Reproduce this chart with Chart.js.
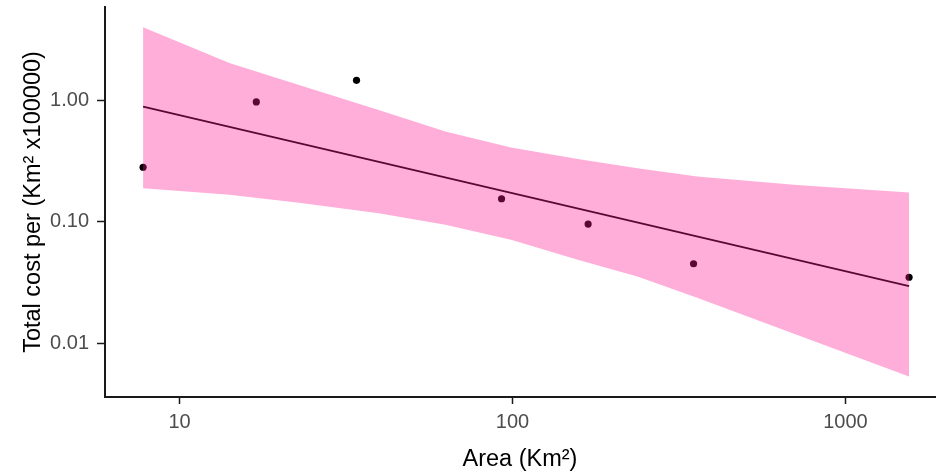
<!DOCTYPE html>
<html lang="en">
<head>
  <meta charset="UTF-8">
  <title>Total cost per area</title>
  <script src="https://cdn.jsdelivr.net/npm/chart.js"></script>
  <style>
    html, body { margin: 0; padding: 0; background: #fff; }
    #chart-container { width: 939px; height: 474px; }
  </style>
</head>
<body>

<div id="chart-container">
  <canvas id="costChart"></canvas>
</div>

<script>
// observed sites
const areaKm2 = [7.77, 17.0, 34.0, 92.7, 168.7, 349.8, 1553];
const totalCost = [0.282, 0.976, 1.47, 0.155, 0.0958, 0.0451, 0.0349];

// fitted line (log-log)
const fitArea = [7.77, 1553];
const fitCost = [0.892, 0.0295];

// confidence band
const bandArea = [7.77, 14.11, 22.84, 39.62, 62.84, 98.97, 156.97, 237.2, 358.5, 713.8, 1553];
const bandUpper = [4.03, 2.046, 1.347, 0.838, 0.555, 0.411, 0.3307, 0.2772, 0.2363, 0.2018, 0.1744];
const bandLower = [0.1896, 0.167, 0.1434, 0.1179, 0.0945, 0.0711, 0.0486, 0.0354, 0.0236, 0.0117, 0.0053];

// axis ticks
const xTicks = [10, 100, 1000];
const xTickLabels = ["10", "100", "1000"];
const yTicks = [0.01, 0.1, 1];
const yTickLabels = ["0.01", "0.10", "1.00"];

function pairs(xs, ys) {
  return xs.map((x, i) => ({ x: x, y: ys[i] }));
}

const tickFont = { family: "Arial, 'Liberation Sans', sans-serif", size: 20 };
const titleFont = { family: "Arial, 'Liberation Sans', sans-serif", size: 23.5 };

const ctx = document.getElementById("costChart").getContext("2d");
new Chart(ctx, {
  type: "scatter",
  data: {
    datasets: [
      {
        label: "upper",
        data: pairs(bandArea, bandUpper),
        showLine: true,
        pointRadius: 0,
        borderWidth: 0,
        borderColor: "rgba(0,0,0,0)",
        backgroundColor: "rgba(255,20,147,0.35)",
        tension: 0,
        fill: "+1",
        order: 0
      },
      {
        label: "lower",
        data: pairs(bandArea, bandLower),
        showLine: true,
        pointRadius: 0,
        borderWidth: 0,
        borderColor: "rgba(0,0,0,0)",
        tension: 0,
        fill: false,
        order: 0
      },
      {
        label: "sites",
        data: pairs(areaKm2, totalCost),
        pointRadius: 3.6,
        pointBackgroundColor: "#000",
        pointBorderWidth: 0,
        order: 1
      },
      {
        label: "fit",
        data: pairs(fitArea, fitCost),
        showLine: true,
        pointRadius: 0,
        borderColor: "#000",
        borderWidth: 2,
        fill: false,
        order: 1
      }
    ]
  },
  options: {
    responsive: true,
    maintainAspectRatio: false,
    animation: false,
    layout: { padding: { top: 7, right: 0, left: 0, bottom: 0 } },
    plugins: {
      legend: { display: false },
      tooltip: { enabled: false }
    },
    scales: {
      x: {
        type: "logarithmic",
        min: 5.97,
        max: 1858,
        afterBuildTicks: scale => { scale.ticks = xTicks.map(v => ({ value: v })); },
        afterFit: scale => {
          scale.height = 77;
          scale.paddingLeft = 0;
          scale.paddingRight = 0;
        },
        ticks: {
          color: "#4d4d4d",
          font: tickFont,
          padding: 6,
          maxRotation: 0,
          callback: (v) => xTickLabels[xTicks.indexOf(v)]
        },
        grid: { display: true, drawOnChartArea: false, drawTicks: true, tickLength: 7, tickWidth: 1.5, tickColor: "#1a1a1a" },
        border: { display: true, color: "#1a1a1a", width: 2 },
        title: { display: true, text: "Area (Km²)", color: "#000", font: titleFont, padding: { top: 3, bottom: 0 } }
      },
      y: {
        type: "logarithmic",
        min: 0.00359,
        max: 5.92,
        afterBuildTicks: scale => { scale.ticks = yTicks.map(v => ({ value: v })); },
        afterFit: scale => {
          scale.width = 105;
          scale.paddingTop = 0;
          scale.paddingBottom = 0;
        },
        ticks: {
          color: "#4d4d4d",
          font: tickFont,
          padding: 8,
          callback: (v) => yTickLabels[yTicks.indexOf(v)]
        },
        grid: { display: true, drawOnChartArea: false, drawTicks: true, tickLength: 8, tickWidth: 1.5, tickColor: "#1a1a1a" },
        border: { display: true, color: "#1a1a1a", width: 2 },
        title: { display: true, text: "Total cost per (Km² x100000)", color: "#000", font: titleFont, padding: { top: 19, bottom: 0 } }
      }
    }
  }
});
</script>

</body>
</html>
